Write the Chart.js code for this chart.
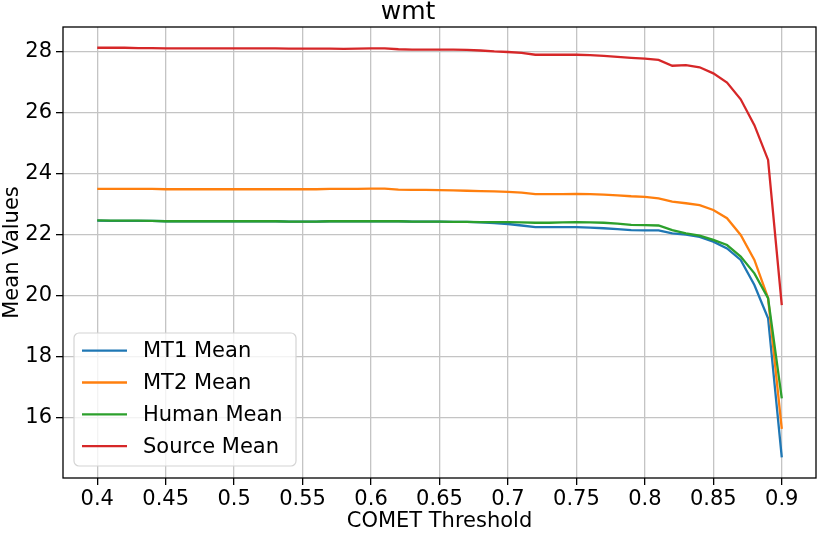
<!DOCTYPE html>
<html>
<head>
<meta charset="utf-8">
<script src="https://cdn.jsdelivr.net/npm/chart.js@4.4.0/dist/chart.umd.min.js"></script>
<style>
  html, body { margin: 0; padding: 0; background: #fff; }
  #wrap { width: 817px; height: 534px; }
</style>
</head>
<body>
<div id="wrap"><canvas id="wmtChart"></canvas></div>
<script>
const thresholds = [0.40, 0.41, 0.42, 0.43, 0.44, 0.45, 0.46, 0.47, 0.48, 0.49,
    0.50, 0.51, 0.52, 0.53, 0.54, 0.55, 0.56, 0.57, 0.58, 0.59,
    0.60, 0.61, 0.62, 0.63, 0.64, 0.65, 0.66, 0.67, 0.68, 0.69,
    0.70, 0.71, 0.72, 0.73, 0.74, 0.75, 0.76, 0.77, 0.78, 0.79,
    0.80, 0.81, 0.82, 0.83, 0.84, 0.85, 0.86, 0.87, 0.88, 0.89, 0.90];

const mt1Mean = [22.47, 22.46, 22.46, 22.46, 22.46, 22.45, 22.45, 22.45, 22.45, 22.45,
    22.45, 22.45, 22.45, 22.45, 22.44, 22.44, 22.44, 22.45, 22.45, 22.45,
    22.45, 22.45, 22.45, 22.44, 22.44, 22.44, 22.43, 22.43, 22.41, 22.39,
    22.36, 22.31, 22.26, 22.26, 22.26, 22.26, 22.24, 22.22, 22.19, 22.16,
    22.15, 22.15, 22.05, 22.01, 21.94, 21.78, 21.56, 21.18, 20.36, 19.27, 14.71];

const mt2Mean = [23.51, 23.51, 23.51, 23.51, 23.51, 23.50, 23.50, 23.50, 23.50, 23.50,
    23.50, 23.50, 23.50, 23.50, 23.50, 23.50, 23.50, 23.51, 23.51, 23.51,
    23.52, 23.52, 23.49, 23.48, 23.48, 23.47, 23.46, 23.45, 23.44, 23.43,
    23.41, 23.39, 23.34, 23.34, 23.34, 23.35, 23.34, 23.32, 23.30, 23.27,
    23.25, 23.20, 23.09, 23.04, 22.98, 22.82, 22.55, 22.00, 21.18, 19.93, 15.64];

const humanMean = [22.48, 22.47, 22.47, 22.47, 22.46, 22.45, 22.45, 22.45, 22.45, 22.45,
    22.45, 22.45, 22.45, 22.45, 22.44, 22.44, 22.44, 22.45, 22.45, 22.45,
    22.45, 22.45, 22.45, 22.44, 22.44, 22.44, 22.43, 22.43, 22.42, 22.42,
    22.42, 22.41, 22.40, 22.40, 22.41, 22.42, 22.41, 22.40, 22.37, 22.33,
    22.32, 22.31, 22.16, 22.05, 21.98, 21.84, 21.67, 21.29, 20.74, 19.93, 16.64];

const sourceMean = [28.14, 28.14, 28.14, 28.13, 28.13, 28.12, 28.12, 28.12, 28.12, 28.12,
    28.12, 28.12, 28.12, 28.12, 28.11, 28.11, 28.11, 28.11, 28.10, 28.11,
    28.12, 28.12, 28.09, 28.08, 28.08, 28.08, 28.08, 28.07, 28.05, 28.02,
    28.00, 27.97, 27.91, 27.91, 27.91, 27.91, 27.90, 27.87, 27.84, 27.81,
    27.78, 27.74, 27.55, 27.57, 27.50, 27.30, 27.00, 26.45, 25.60, 24.46, 19.70];

const xTicks = [0.4, 0.45, 0.5, 0.55, 0.6, 0.65, 0.7, 0.75, 0.8, 0.85, 0.9];
const yTicks = [16, 18, 20, 22, 24, 26, 28];

const seriesNames = ['MT1 Mean', 'MT2 Mean', 'Human Mean', 'Source Mean'];
const seriesColors = ['#1f77b4', '#ff7f0e', '#2ca02c', '#d62728'];
const seriesValues = [mt1Mean, mt2Mean, humanMean, sourceMean];

const FONT = 'DejaVu Sans';

function points(values) {
    return thresholds.map((t, i) => ({ x: t, y: values[i] }));
}

// frame round the plot area, and the legend box inside it (lower left)
const framePlugin = {
    id: 'frame',
    afterDraw(chart) {
        const ctx = chart.ctx;
        const a = chart.chartArea;
        ctx.save();
        ctx.strokeStyle = '#000';
        ctx.lineWidth = 1.3;
        ctx.strokeRect(a.left, a.top, a.right - a.left, a.bottom - a.top);

        const bx = 74, by = 333, bw = 222, bh = 133, r = 5;
        ctx.beginPath();
        ctx.moveTo(bx + r, by);
        ctx.arcTo(bx + bw, by, bx + bw, by + bh, r);
        ctx.arcTo(bx + bw, by + bh, bx, by + bh, r);
        ctx.arcTo(bx, by + bh, bx, by, r);
        ctx.arcTo(bx, by, bx + bw, by, r);
        ctx.closePath();
        ctx.fillStyle = 'rgba(255,255,255,0.8)';
        ctx.fill();
        ctx.strokeStyle = '#d4d4d4';
        ctx.lineWidth = 1.2;
        ctx.stroke();

        ctx.font = '21px "' + FONT + '"';
        ctx.textBaseline = 'middle';
        ctx.fillStyle = '#000';
        seriesNames.forEach((name, i) => {
            const y = 350.7 + i * 31.8;
            ctx.strokeStyle = seriesColors[i];
            ctx.lineWidth = 2.3;
            ctx.beginPath();
            ctx.moveTo(82, y);
            ctx.lineTo(127, y);
            ctx.stroke();
            ctx.fillText(name, 143, y + 1);
        });
        ctx.restore();
    }
};

new Chart(document.getElementById('wmtChart').getContext('2d'), {
    type: 'line',
    data: {
        datasets: seriesNames.map((name, i) => ({
            label: name,
            data: points(seriesValues[i]),
            borderColor: seriesColors[i],
            backgroundColor: seriesColors[i],
            borderWidth: 2.3,
            pointRadius: 0,
            tension: 0,
            order: 4 - i
        }))
    },
    options: {
        responsive: true,
        maintainAspectRatio: false,
        animation: false,
        layout: { padding: { left: 0, right: 1, top: 0, bottom: 0 } },
        plugins: {
            legend: { display: false },
            tooltip: { enabled: false },
            title: {
                display: true,
                text: 'wmt',
                color: '#000',
                font: { family: FONT, size: 25, weight: 'normal', lineHeight: 1 },
                padding: { top: 0, bottom: 2 }
            }
        },
        scales: {
            x: {
                type: 'linear',
                min: 0.375,
                max: 0.925,
                afterBuildTicks(scale) { scale.ticks = xTicks.map(v => ({ value: v })); },
                afterFit(scale) { scale.height = 56; },
                grid: { color: '#c4c4c4', lineWidth: 1.3, tickColor: '#000', tickLength: 7, drawTicks: true },
                border: { display: false },
                ticks: {
                    color: '#000',
                    font: { family: FONT, size: 21 },
                    padding: 2,
                    maxRotation: 0,
                    autoSkip: false,
                    callback: v => String(Math.round(v * 100) / 100)
                },
                title: {
                    display: true,
                    text: 'COMET Threshold',
                    color: '#000',
                    font: { family: FONT, size: 21 },
                    padding: { top: 0, bottom: 0 }
                }
            },
            y: {
                type: 'linear',
                min: 14.03,
                max: 28.82,
                afterBuildTicks(scale) { scale.ticks = yTicks.map(v => ({ value: v })); },
                afterFit(scale) { scale.width = 63; },
                grid: { color: '#c4c4c4', lineWidth: 1.3, tickColor: '#000', tickLength: 7, drawTicks: true },
                border: { display: false },
                ticks: {
                    color: '#000',
                    font: { family: FONT, size: 21 },
                    padding: 4
                },
                title: {
                    display: true,
                    text: 'Mean Values',
                    color: '#000',
                    font: { family: FONT, size: 21 },
                    padding: { top: 0, bottom: 0 }
                }
            }
        }
    },
    plugins: [framePlugin]
});
</script>
</body>
</html>
